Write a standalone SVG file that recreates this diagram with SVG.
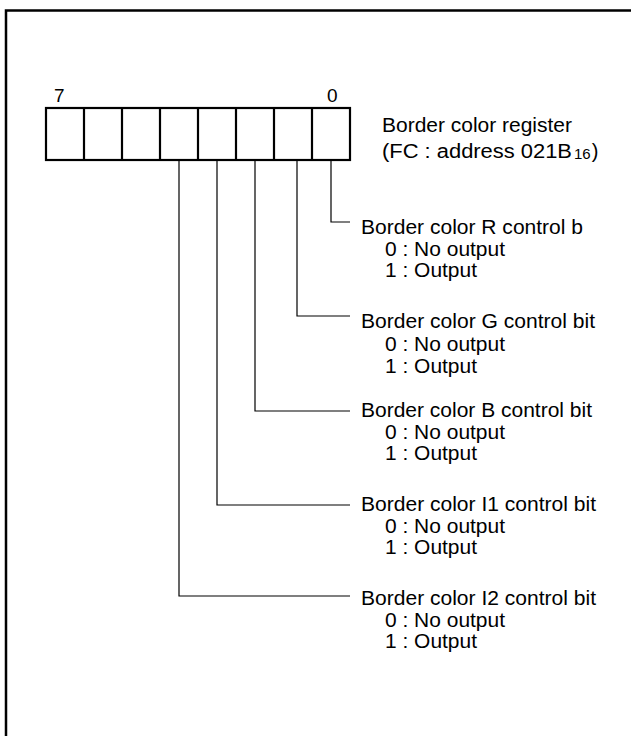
<svg xmlns="http://www.w3.org/2000/svg" width="631" height="736" viewBox="0 0 631 736">
<style>
text{font-family:"Liberation Sans",Arial,sans-serif;fill:#000;font-size:20px}
.bit{font-size:19px}
.sub{font-size:15px}
.frame{fill:none;stroke:#000;stroke-width:2.5}
.reg{fill:#fff;stroke:#000;stroke-width:2.2}
.conn{fill:none;stroke:#000;stroke-width:1.2}
</style>
<rect width="631" height="736" fill="#fff"/>
<path class="frame" d="M6,740 V10.5 H640"/>
<g id="register">
<rect class="reg" x="46" y="108" width="304" height="52"/>
<path class="reg" d="M84,108V160M122,108V160M160,108V160M198,108V160M236,108V160M274,108V160M312,108V160"/>
<text class="bit" x="54" y="102">7</text>
<text class="bit" x="327" y="102">0</text>
</g>
<g id="register-label">
<text x="382" y="132" textLength="190" lengthAdjust="spacingAndGlyphs">Border color register</text>
<text x="382" y="158"><tspan textLength="190" lengthAdjust="spacingAndGlyphs">(FC : address 021B</tspan><tspan class="sub" dx="2" dy="1">16</tspan><tspan dy="-1" dx="1">)</tspan></text>
</g>
<g id="connectors">
<path class="conn" d="M331,160V222H350"/>
<path class="conn" d="M297,160V316H350"/>
<path class="conn" d="M255,160V411H350"/>
<path class="conn" d="M217,160V505H350"/>
<path class="conn" d="M179,160V596H350"/>
</g>
<g id="bit-r">
<text x="361" y="234" textLength="222" lengthAdjust="spacingAndGlyphs">Border color R control b</text>
<text x="385" y="256" textLength="120" lengthAdjust="spacingAndGlyphs">0 : No output</text>
<text x="385" y="277" textLength="92" lengthAdjust="spacingAndGlyphs">1 : Output</text>
</g>
<g id="bit-g">
<text x="361" y="328" textLength="234" lengthAdjust="spacingAndGlyphs">Border color G control bit</text>
<text x="385" y="351" textLength="120" lengthAdjust="spacingAndGlyphs">0 : No output</text>
<text x="385" y="373" textLength="92" lengthAdjust="spacingAndGlyphs">1 : Output</text>
</g>
<g id="bit-b">
<text x="361" y="417" textLength="231" lengthAdjust="spacingAndGlyphs">Border color B control bit</text>
<text x="385" y="439" textLength="120" lengthAdjust="spacingAndGlyphs">0 : No output</text>
<text x="385" y="460" textLength="92" lengthAdjust="spacingAndGlyphs">1 : Output</text>
</g>
<g id="bit-i1">
<text x="361" y="511" textLength="235" lengthAdjust="spacingAndGlyphs">Border color I1 control bit</text>
<text x="385" y="533" textLength="120" lengthAdjust="spacingAndGlyphs">0 : No output</text>
<text x="385" y="554" textLength="92" lengthAdjust="spacingAndGlyphs">1 : Output</text>
</g>
<g id="bit-i2">
<text x="361" y="605" textLength="235" lengthAdjust="spacingAndGlyphs">Border color I2 control bit</text>
<text x="385" y="627" textLength="120" lengthAdjust="spacingAndGlyphs">0 : No output</text>
<text x="385" y="648" textLength="92" lengthAdjust="spacingAndGlyphs">1 : Output</text>
</g>
</svg>
